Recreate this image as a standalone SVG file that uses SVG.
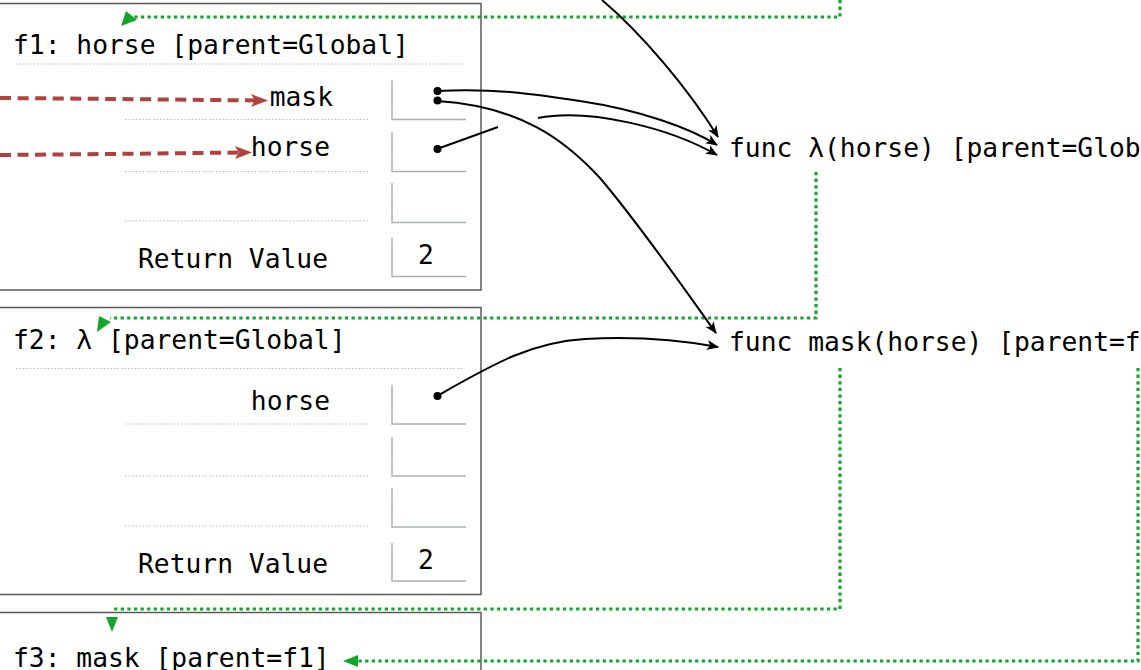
<svg xmlns="http://www.w3.org/2000/svg" width="1141" height="670" viewBox="0 0 1141 670">
  <style>
    text { font-family: "DejaVu Sans Mono", "Liberation Mono", monospace; font-size: 26.3px; fill: #000; }
    .frame { fill: #fff; stroke: #5a5a5a; stroke-width: 1.5; }
    .sep { stroke: #b8bcbc; stroke-width: 1.2; stroke-dasharray: 1.5 2; fill: none; }
    .box { stroke: #a9b3b6; stroke-width: 1.5; fill: none; }
    .ptr { stroke: #000; stroke-width: 2; fill: none; }
    .env { stroke: #12a62a; stroke-width: 3.2; stroke-dasharray: 3.3 3.3; fill: none; }
    .bind { stroke: #b0413e; stroke-width: 4; stroke-dasharray: 11 6.5; fill: none; }
    .dot { fill: #000; }
    .head-g { fill: #12a62a; }
    .head-r { fill: #b0413e; }
  </style>
  <defs>
    <marker id="arrow" viewBox="0 0 12 10" refX="11" refY="5" markerWidth="12" markerHeight="10" markerUnits="userSpaceOnUse" orient="auto">
      <path d="M0,0 L12,5 L0,10 L3,5 z" fill="#000"/>
    </marker>
  </defs>

  <!-- frame f1 -->
  <g id="frame-f1">
    <rect class="frame" x="-20" y="3.5" width="501" height="286.5"/>
    <text x="13" y="54">f1: horse [parent=Global]</text>
    <line class="sep" x1="16" y1="64" x2="462" y2="64"/>
    <text x="333" y="106" text-anchor="end">mask</text>
    <line class="sep" x1="125" y1="119.5" x2="369" y2="119.5"/>
    <path class="box" d="M392,80 V119.5 H466"/>
    <text x="330" y="156" text-anchor="end">horse</text>
    <line class="sep" x1="125" y1="171.5" x2="369" y2="171.5"/>
    <path class="box" d="M392,132 V171.5 H466"/>
    <line class="sep" x1="125" y1="221" x2="369" y2="221"/>
    <path class="box" d="M392,183 V222.5 H466"/>
    <text x="328" y="268" text-anchor="end">Return Value</text>
    <path class="box" d="M392,238 V276.5 H466"/>
    <text x="426" y="264" text-anchor="middle">2</text>
  </g>

  <!-- frame f2 -->
  <g id="frame-f2">
    <rect class="frame" x="-20" y="307.5" width="501" height="287"/>
    <text x="13" y="349">f2: λ [parent=Global]</text>
    <line class="sep" x1="16" y1="368.5" x2="462" y2="368.5"/>
    <text x="330" y="410" text-anchor="end">horse</text>
    <line class="sep" x1="125" y1="424" x2="369" y2="424"/>
    <path class="box" d="M392,385 V424 H466"/>
    <line class="sep" x1="125" y1="476" x2="369" y2="476"/>
    <path class="box" d="M392,437 V476 H466"/>
    <line class="sep" x1="125" y1="526" x2="369" y2="526"/>
    <path class="box" d="M392,488 V527 H466"/>
    <text x="328" y="573" text-anchor="end">Return Value</text>
    <path class="box" d="M392,543 V581 H466"/>
    <text x="426" y="569" text-anchor="middle">2</text>
  </g>

  <!-- frame f3 -->
  <g id="frame-f3">
    <rect class="frame" x="-20" y="612.5" width="501" height="80"/>
    <text x="13" y="667">f3: mask [parent=f1]</text>
  </g>

  <!-- function objects -->
  <g id="func-lambda">
    <text x="729" y="157">func λ(horse) [parent=Global]</text>
  </g>
  <g id="func-mask">
    <text x="729" y="351">func mask(horse) [parent=f1]</text>
  </g>

  <!-- connectors -->
  <g id="connectors">
    <!-- parent-frame links -->
    <path class="env" d="M840,0 V17 H133"/>
    <polygon class="head-g" points="121,26 126,11 137,20"/>
    <path class="env" d="M816,172 V318 H110"/>
    <polygon class="head-g" points="97,332 99,316 111,322"/>
    <path class="env" d="M840,368 V609 H112"/>
    <polygon class="head-g" points="112,632 106,617 118,617"/>
    <path class="env" d="M1138,368 V661 H357"/>
    <polygon class="head-g" points="343,661 358,655 358,667"/>

    <!-- name bindings -->
    <path class="bind" d="M0,98 Q130,99 256,100.5"/>
    <polygon class="head-r" points="268,100.5 251,94 255,100.5 251,107"/>
    <path class="bind" d="M0,155 Q120,154 240,152.5"/>
    <polygon class="head-r" points="252,152.5 235,146 239,152.5 235,159"/>

    <!-- value pointers -->
    <path class="ptr" d="M602,0 C640,32 688,88 718,137" marker-end="url(#arrow)"/>
    <path class="ptr" d="M437,91 C500,88 540,95 580,101 C640,110 690,128 717,145" marker-end="url(#arrow)"/>
    <path class="ptr" d="M437,101 C520,106 565,140 600,178 C640,225 685,290 716,333" marker-end="url(#arrow)"/>
    <path class="ptr" d="M437,149 L498,127"/>
    <path class="ptr" d="M538,118 C590,108 670,128 717,155" marker-end="url(#arrow)"/>
    <path class="ptr" d="M437,396 C490,366 530,342 585,339 C640,336 680,340 718,347" marker-end="url(#arrow)"/>
    <circle class="dot" cx="437.5" cy="91" r="4"/>
    <circle class="dot" cx="437.5" cy="100.5" r="4"/>
    <circle class="dot" cx="437.5" cy="149" r="4"/>
    <circle class="dot" cx="437.5" cy="396" r="4"/>
  </g>
</svg>
